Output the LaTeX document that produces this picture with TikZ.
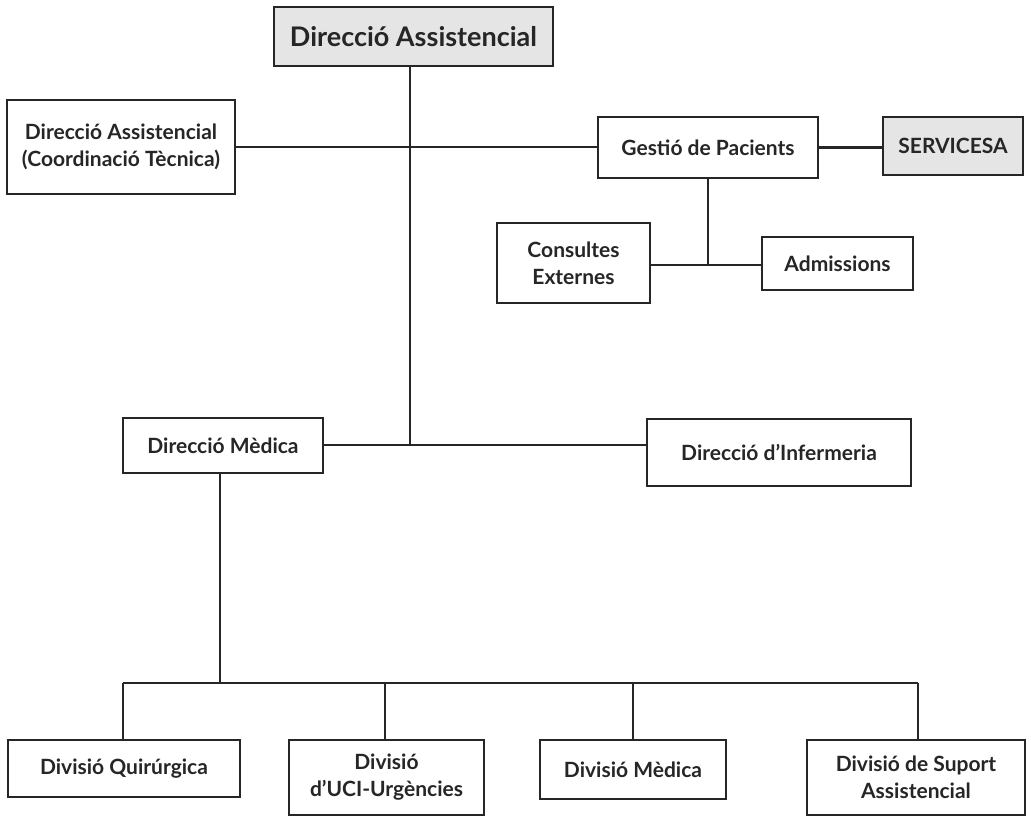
\documentclass[tikz,border=0pt]{standalone}
\usepackage{fontspec}
\setmainfont{Lato}
\begin{document}
\begin{tikzpicture}[x=1pt,y=-1pt,
  box/.style={draw=black!85, line width=1.4pt, fill=white, inner sep=0pt,
    align=center, font=\fontsize{21}{27}\selectfont\bfseries, text=black!85},
  greybox/.style={box, fill=black!10},
  link/.style={draw=black!85, line width=2.2pt}]
\useasboundingbox (0,0) rectangle (1031,821);

% top level
\node[greybox, minimum width=279, minimum height=59,
  font=\fontsize{27}{32}\selectfont\bfseries] (top) at (413.5,36.5) {Direcció Assistencial};

% staff and patient management
\node[box, minimum width=228, minimum height=94] (coord) at (121,147) {Direcció Assistencial\\(Coordinació Tècnica)};
\node[box, minimum width=220, minimum height=61] (gestio) at (708,147.5) {Gestió de Pacients};
\node[greybox, minimum width=140, minimum height=58] (serv) at (953,146) {SERVICESA};
\node[box, minimum width=153, minimum height=80] (cons) at (573.5,263) {Consultes\\Externes};
\node[box, minimum width=151, minimum height=53] (adm) at (837.5,263.5) {Admissions};

% second level
\node[box, minimum width=200, minimum height=55] (med) at (223,445.5) {Direcció Mèdica};
\node[box, minimum width=264, minimum height=67] (inf) at (779,452.5) {Direcció d’Infermeria};

% divisions
\node[box, minimum width=232, minimum height=57] (quir) at (124,768.5) {Divisió Quirúrgica};
\node[box, minimum width=195, minimum height=75] (uci) at (386.5,777.5) {Divisió\\d’UCI-Urgències};
\node[box, minimum width=186, minimum height=59] (dmed) at (633,769.5) {Divisió Mèdica};
\node[box, minimum width=218, minimum height=75] (sup) at (916,777.5) {Divisió de Suport\\Assistencial};

% junction points
\coordinate (jtrunk) at (410,445);
\coordinate (jgest) at (708,265);
\coordinate (jmed) at (220,683);
\coordinate (b1) at (123,683);
\coordinate (b2) at (385,683);
\coordinate (b3) at (633,683);
\coordinate (b4) at (918,683);

% connectors
\draw[link] (top.south -| jtrunk) -- (jtrunk);
\draw[link] (coord.east) -- (coord.east -| gestio.west);
\draw[link] (gestio.east) -- (gestio.east -| serv.west);
\draw[link] (gestio.south -| jgest) -- (jgest);
\draw[link] (cons.east |- jgest) -- (adm.west |- jgest);
\draw[link] (med.east |- jtrunk) -- (inf.west |- jtrunk);
\draw[link] (med.south -| jmed) -- (jmed);
\draw[link] (b1) -- (b4);
\draw[link] (b1) -- (quir.north -| b1);
\draw[link] (b2) -- (uci.north -| b2);
\draw[link] (b3) -- (dmed.north -| b3);
\draw[link] (b4) -- (sup.north -| b4);
\end{tikzpicture}
\end{document}
